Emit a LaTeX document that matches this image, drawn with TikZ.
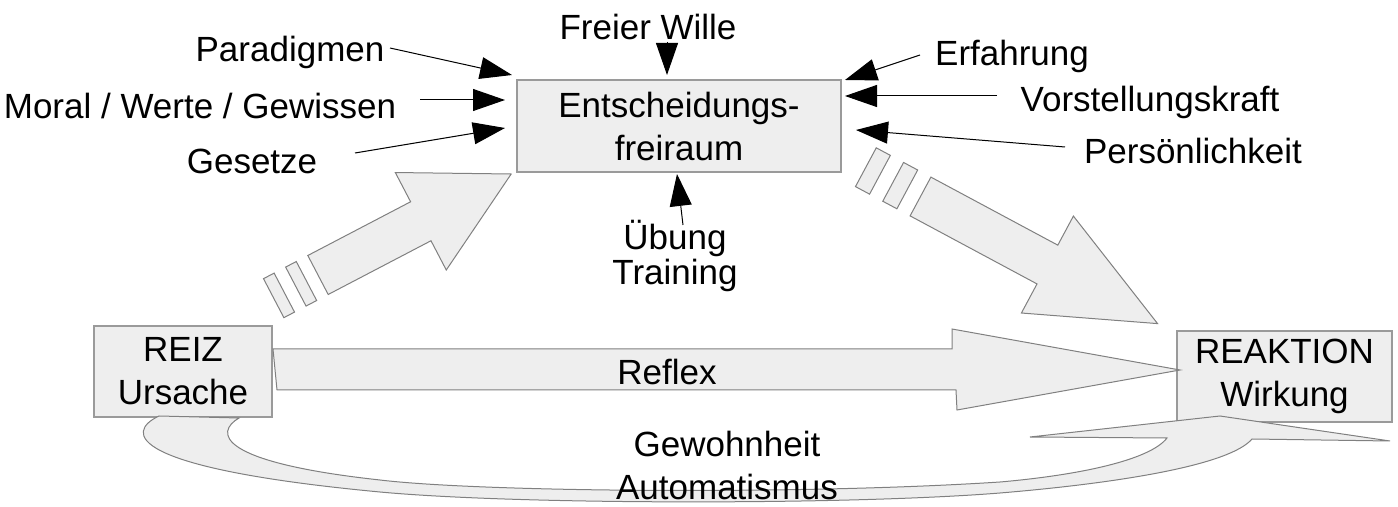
\documentclass[tikz,border=0pt]{standalone}
\usepackage{fontspec}
\setmainfont{Liberation Sans}
\usetikzlibrary{arrows.meta}
\definecolor{hellgrau}{HTML}{EEEEEE}
\definecolor{randgrau}{HTML}{9A9A9A}
\definecolor{pfeilrand}{HTML}{808080}
\newcommand\streifenpfeil[6]{%
  \begin{scope}[shift={#1},rotate=#2]
    \filldraw[pfeilform] (0,-22) -- (#3,-22) -- (#3,-55) -- (#4,0) -- (#3,55) -- (#3,22) -- (0,22) -- cycle;
    \filldraw[pfeilform] (-#5,-22) rectangle (-#5-#6,22);
    \filldraw[pfeilform] (-2*#5-#6,-22) rectangle (-2*#5-2*#6,22);
  \end{scope}}

\begin{document}
\begin{tikzpicture}[x=0.5pt,y=-0.5pt,
  txt/.style={font=\fontsize{17.5}{21.5}\selectfont,inner sep=0pt},
  kasten/.style={draw=randgrau,fill=hellgrau,line width=0.6pt,align=center,inner sep=0pt,font=\fontsize{17.5}{21.5}\selectfont},
  zeiger/.style={-{Triangle[length=16pt,width=11pt]},line width=0.5pt},
  pfeilform/.style={draw=pfeilrand,fill=hellgrau,line width=0.5pt}]
  \useasboundingbox (0,0) rectangle (1398,507);

  \streifenpfeil{(318,275)}{27.6}{116}{218}{13}{12}
  \streifenpfeil{(920.5,196.5)}{-28.2}{144}{269}{15}{16}

  \node[kasten,minimum width=162pt,minimum height=46pt] (frei) at (679,126) {Entscheidungs-\\freiraum};
  \node[kasten,minimum width=89pt,minimum height=45.5pt] (reiz) at (183,371.5) {REIZ\\Ursache};
  \node[kasten,minimum width=107.5pt,minimum height=45.5pt] (reaktion) at (1284.5,376.5) {REAKTION\\Wirkung};

  \filldraw[pfeilform] (273,349) -- (952,349) -- (952,329) -- (1180,370) -- (957,410) -- (956,390) -- (277,390) -- cycle;
  \node[txt,anchor=base] (reflex) at (667,385) {Reflex};

  \filldraw[pfeilform] (159,416) -- (239,418)
    .. controls (215,432) and (215,462) .. (380,480)
    .. controls (480,492) and (800,495) .. (1000,482)
    .. controls (1080,475) and (1150,460) .. (1167,438)
    -- (1030,437) -- (1220,416) -- (1390,441) -- (1252,439)
    .. controls (1230,465) and (1120,483) .. (1000,493)
    .. controls (850,505) and (520,505) .. (380,492)
    .. controls (125,468) and (125,432) .. (159,416) -- cycle;
  \node[txt,anchor=base] (gewohnheit) at (727,457) {Gewohnheit};
  \node[txt,anchor=base] (automatismus) at (727,500) {Automatismus};

  \node[txt,anchor=base] (paradigmen) at (290,62) {Paradigmen};
  \node[txt,anchor=base] (moral) at (200,119) {Moral / Werte / Gewissen};
  \node[txt,anchor=base] (gesetze) at (252,174) {Gesetze};
  \node[txt,anchor=base] (wille) at (648,40) {Freier Wille};
  \node[txt,anchor=base] (erfahrung) at (1012,66) {Erfahrung};
  \node[txt,anchor=base] (vorstellung) at (1150,112) {Vorstellungskraft};
  \node[txt,anchor=base] (person) at (1193,164) {Persönlichkeit};
  \node[txt,anchor=base] (uebung) at (675,250) {Übung};
  \node[txt,anchor=base] (training) at (675,285) {Training};

  \coordinate (pA) at (390,48);   \coordinate (pB) at (512,75);
  \coordinate (mA) at (420,100);  \coordinate (mB) at (505,100);
  \coordinate (gA) at (355,153);  \coordinate (gB) at (505,128);
  \coordinate (wA) at (667,42);   \coordinate (wB) at (667,75);
  \coordinate (eA) at (920,55);   \coordinate (eB) at (845,80);
  \coordinate (vA) at (997,96);   \coordinate (vB) at (845,96);
  \coordinate (kA) at (1065,147); \coordinate (kB) at (856,130);
  \coordinate (uA) at (683,225);  \coordinate (uB) at (677,174);

  \draw[zeiger] (pA) -- (pB);
  \draw[zeiger] (mA) -- (mB);
  \draw[zeiger] (gA) -- (gB);
  \draw[zeiger] (wA) -- (wB);
  \draw[zeiger] (eA) -- (eB);
  \draw[zeiger] (vA) -- (vB);
  \draw[zeiger] (kA) -- (kB);
  \draw[zeiger] (uA) -- (uB);
\end{tikzpicture}
\end{document}
